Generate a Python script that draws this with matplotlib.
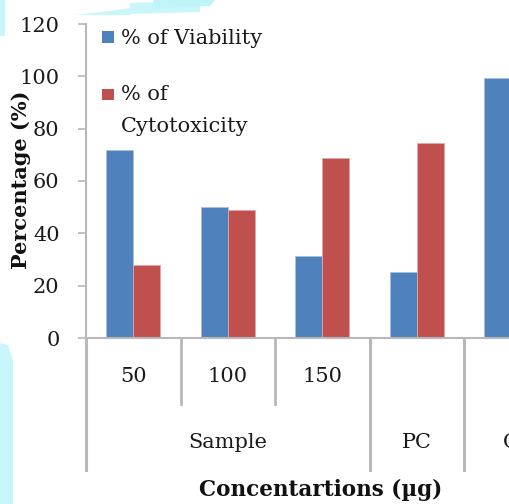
import matplotlib
matplotlib.use("Agg")
import matplotlib.pyplot as plt
from matplotlib.patches import Rectangle, Polygon
import numpy as np

# ---- data ----
sub_labels = ["50", "100", "150", "", ""]
groups = ["Sample", "PC", "C"]
group_spans = [(0, 2), (3, 3), (4, 4)]
viability = [72, 50, 31.3, 25.2, 99.5]
cytotoxicity = [27.9, 48.9, 68.7, 74.6, 0]
series_names = ["% of Viability", "% of\nCytotoxicity"]
yticks = [0, 20, 40, 60, 80, 100, 120]

BLUE = "#4F81BD"
RED = "#C0504D"
GRAY = "#b8b8b8"
CYAN = "#c9f6fb"
FONT = "DejaVu Serif"
TXT = "#1a1a1a"
FS = 15

W, H = 509, 504
fig = plt.figure(figsize=(W / 100, H / 100), dpi=100)

# background cyan glow patches (figure pixel coords)
def fpoly(pts, color=CYAN):
    fig.patches.append(Polygon([(x / W, 1 - y / H) for x, y in pts], closed=True,
                               transform=fig.transFigure, facecolor=color,
                               edgecolor="none", zorder=0))

fpoly([(0, 343), (8, 345), (13, 360), (13, 504), (0, 504)])
fpoly([(0, 0), (5, 0), (5, 36), (0, 36)])
fpoly([(75, 15), (110, 11), (130, 8), (130, 15)])
fpoly([(130, 3), (200, 0), (200, 12), (130, 14)])
fpoly([(153, 0), (215, 0), (210, 6), (155, 8)], "#bff4f9")

ax_left, ax_bottom_px, ax_top_px = 86, 338, 24
ax = fig.add_axes([ax_left / W, (H - ax_bottom_px) / H, (W - ax_left) / W,
                   (ax_bottom_px - ax_top_px) / H])
ax.patch.set_alpha(0)

cat_w = 94.5
n = len(sub_labels)
x = np.arange(n)
bw = 27 / cat_w
ax.bar(x - bw / 2, viability, width=bw, color=BLUE, edgecolor="#a9c1e0",
       linewidth=0.6, zorder=2)
ax.bar(x + bw / 2, cytotoxicity, width=bw, color=RED, edgecolor="#e0a8a6",
       linewidth=0.6, zorder=2)

ax.set_ylim(0, 120)
ax.set_xlim(-0.5, (W - ax_left) / cat_w - 0.5)
ax.set_yticks(yticks)
ax.set_yticklabels([str(t) for t in yticks], fontfamily=FONT, fontsize=FS,
                   color=TXT)
ax.tick_params(axis="y", direction="out", length=6, width=1.2, color=GRAY, pad=13)
ax.set_xticks([])
for s in ["top", "right"]:
    ax.spines[s].set_visible(False)
for s in ["left", "bottom"]:
    ax.spines[s].set_color(GRAY)
    ax.spines[s].set_linewidth(1.5)

span_px = ax_bottom_px - ax_top_px
def yf(py):
    return (ax_bottom_px - py) / span_px

trans = ax.get_xaxis_transform()
# level 1 labels and dividers
for i, lab in enumerate(sub_labels):
    if lab:
        ax.text(i, yf(377), lab, transform=trans, ha="center", va="center",
                fontfamily=FONT, fontsize=FS, color=TXT)
for b in [0.5, 1.5]:
    ax.plot([b, b], [0, yf(404)], transform=trans, color=GRAY, lw=2,
            clip_on=False)
# group labels and dividers
for g, (a, c) in zip(groups, group_spans):
    ax.text((a + c) / 2, yf(442), g, transform=trans, ha="center", va="center",
            fontfamily=FONT, fontsize=FS, color=TXT)
for b in [-0.5, 2.5, 3.5]:
    ax.plot([b, b], [0, yf(470)], transform=trans, color=GRAY, lw=2.2,
            clip_on=False)

fig.text(321 / W, 1 - 490 / H, "Concentartions (µg)", ha="center", va="center",
         fontfamily=FONT, fontsize=15.5, fontweight="bold", color="#111111")
fig.text(21 / W, 1 - 180 / H, "Percentage (%)", ha="center", va="center",
         rotation=90, fontfamily=FONT, fontsize=15, fontweight="bold",
         color="#111111")

# legend (manual)
def fbox(x0, y0, x1, y1, color):
    fig.patches.append(Rectangle((x0 / W, 1 - y1 / H), (x1 - x0) / W, (y1 - y0) / H,
                                 transform=fig.transFigure, facecolor=color,
                                 edgecolor="none", zorder=3))

fbox(102, 31, 114, 43, BLUE)
fbox(102, 89, 114, 100, RED)
fig.text(121 / W, 1 - 38 / H, series_names[0], ha="left", va="center",
         fontfamily=FONT, fontsize=FS, color=TXT)
fig.text(121 / W, 1 - 95 / H, series_names[1].split("\n")[0], ha="left", va="center",
         fontfamily=FONT, fontsize=FS, color=TXT)
fig.text(121 / W, 1 - 126 / H, series_names[1].split("\n")[1], ha="left", va="center",
         fontfamily=FONT, fontsize=FS, color=TXT)

fig.savefig("out.png", dpi=100)
